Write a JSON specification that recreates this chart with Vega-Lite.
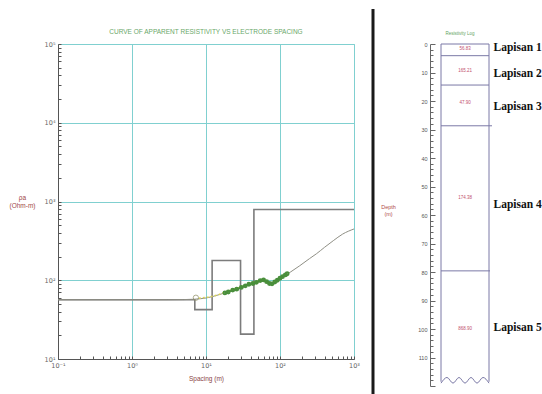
{
  "$schema": "https://vega.github.io/schema/vega-lite/v6.json",
  "padding": {"left": 8, "top": 7, "right": 0, "bottom": 0},
  "spacing": 76,
  "bounds": "flush",
  "config": {"font": "Liberation Sans", "background": "white"},
  "datasets": {
    "model": [{"x":0.1,"y":56.5},{"x":1,"y":56.5},{"x":3,"y":56.5},{"x":5,"y":56.8},{"x":7,"y":57.5},{"x":10,"y":59.5},{"x":13,"y":63},{"x":17,"y":68},{"x":22,"y":73},{"x":26,"y":77},{"x":32,"y":82},{"x":39,"y":88},{"x":48,"y":93},{"x":57,"y":97},{"x":66,"y":94},{"x":75,"y":89},{"x":85,"y":93},{"x":100,"y":103},{"x":114,"y":113},{"x":140,"y":128},{"x":185,"y":153},{"x":250,"y":188},{"x":313,"y":218},{"x":400,"y":262},{"x":525,"y":318},{"x":700,"y":385},{"x":1000,"y":448}],
    "step": [{"x":0.1,"y":56.5},{"x":7.06,"y":42.4},{"x":12.1,"y":178},{"x":29.3,"y":20.7},{"x":44.4,"y":790},{"x":1000,"y":790}],
    "obs": [
      {"s":"y","x":8,"y":59},{"s":"y","x":9,"y":60},{"s":"y","x":11,"y":61},{"s":"y","x":13,"y":63.5},{"s":"y","x":15,"y":66},{"s":"y","x":17,"y":69},{"s":"y","x":20,"y":73},{"s":"y","x":24,"y":77},{"s":"y","x":28,"y":81},{"s":"y","x":33,"y":86},{"s":"y","x":38,"y":91},{"s":"y","x":44,"y":95},{"s":"y","x":50,"y":98},{"s":"y","x":56,"y":102},{"s":"y","x":62,"y":103},
      {"s":"g","x":18,"y":69},{"s":"g","x":20,"y":71},{"s":"g","x":23,"y":75},{"s":"g","x":26,"y":77},{"s":"g","x":30,"y":81},{"s":"g","x":34,"y":85},{"s":"g","x":38,"y":89},{"s":"g","x":43,"y":91},{"s":"g","x":48,"y":94},{"s":"g","x":54,"y":99},{"s":"g","x":60,"y":101},{"s":"g","x":66,"y":96},{"s":"g","x":72,"y":91},{"s":"g","x":78,"y":90},{"s":"g","x":85,"y":95},{"s":"g","x":92,"y":100},{"s":"g","x":100,"y":106},{"s":"g","x":108,"y":111},{"s":"g","x":118,"y":117},{"s":"g","x":125,"y":121}
    ],
    "marker": [{"x":7.3,"y":60}],
    "sep": [{"x":-57,"y":-12.3,"y2":126}],
    "box": [
      {"x":11,"x2":11,"y":0,"y2":118.5},{"x":59,"x2":59,"y":0,"y2":118.5},{"x":11,"x2":59,"y":0,"y2":0},
      {"x":11,"x2":59,"y":4.1,"y2":4.1},{"x":11,"x2":59,"y":14.4,"y2":14.4},{"x":11,"x2":62,"y":28.7,"y2":28.7},{"x":11,"x2":60,"y":79.6,"y2":79.6}
    ],
    "wave": [{"x":11,"y":119},{"x":17,"y":117},{"x":23,"y":119},{"x":29,"y":117},{"x":35,"y":119},{"x":41,"y":117},{"x":47,"y":119},{"x":53,"y":117},{"x":59,"y":119}],
    "rho": [{"x":35,"y":1.8,"t":"56.83"},{"x":35,"y":9.6,"t":"165.21"},{"x":35,"y":20.7,"t":"47.90"},{"x":35,"y":54.2,"t":"174.38"},{"x":35,"y":100,"t":"868.90"}],
    "lap": [{"x":63.5,"y":1.5,"t":"Lapisan 1"},{"x":63.5,"y":10.5,"t":"Lapisan 2"},{"x":63.5,"y":22.2,"t":"Lapisan 3"},{"x":63.5,"y":56.6,"t":"Lapisan 4"},{"x":63.5,"y":99.5,"t":"Lapisan 5"}],
    "ltitle": [{"x":30,"y":-3.6,"t":"Resistivity Log"}]
  },
  "hconcat": [
    {
      "width": 296,
      "height": 315,
      "view": {"stroke": "#8fd4d4"},
      "title": {"text": "CURVE OF APPARENT RESISTIVITY VS ELECTRODE SPACING", "fontSize": 6.5, "fontWeight": "normal", "color": "#6aa86a", "offset": 6, "anchor": "middle"},
      "encoding": {
        "x": {"field": "x", "type": "quantitative",
          "scale": {"type": "log", "domain": [0.1, 1000], "nice": false},
          "axis": {
            "title": "Spacing (m)", "titleFontSize": 6.5, "titleFontWeight": "normal", "titleColor": "#8a4545", "titlePadding": 7,
            "values": [0.1,0.2,0.3,0.4,0.5,0.6,0.7,0.8,0.9,1,2,3,4,5,6,7,8,9,10,20,30,40,50,60,70,80,90,100,200,300,400,500,600,700,800,900,1000],
            "labelExpr": "abs(log(datum.value)/LN10 - round(log(datum.value)/LN10)) < 0.000001 ? '10' + ['⁻¹','⁰','¹','²','³','⁴','⁵'][round(log(datum.value)/LN10)+1] : ''",
            "labelOverlap": false, "labelFlush": false, "labelFont": "DejaVu Sans", "labelFontSize": 6.5, "labelColor": "#666", "labelPadding": 6,
            "tickSize": -3, "tickColor": "#555", "domainColor": "#555",
            "grid": true, "gridColor": "#80d0d0", "gridWidth": 1,
            "gridOpacity": {"condition": {"test": "abs(log(datum.value)/LN10 - round(log(datum.value)/LN10)) < 0.000001", "value": 1}, "value": 0}
          }
        },
        "y": {"field": "y", "type": "quantitative",
          "scale": {"type": "log", "domain": [10, 100000], "nice": false},
          "axis": {
            "title": ["ρa", "(Ohm-m)"], "titleAngle": 0, "titleAlign": "center", "titleBaseline": "top", "titleX": -36, "titleY": 150,
            "titleFontSize": 6.5, "titleFontWeight": "normal", "titleColor": "#a04848",
            "values": [10,20,30,40,50,60,70,80,90,100,200,300,400,500,600,700,800,900,1000,2000,3000,4000,5000,6000,7000,8000,9000,10000,20000,30000,40000,50000,60000,70000,80000,90000,100000],
            "labelExpr": "abs(log(datum.value)/LN10 - round(log(datum.value)/LN10)) < 0.000001 ? '10' + ['⁻¹','⁰','¹','²','³','⁴','⁵'][round(log(datum.value)/LN10)+1] : ''",
            "labelOverlap": false, "labelFlush": false, "labelFont": "DejaVu Sans", "labelFontSize": 6.5, "labelColor": "#666", "labelPadding": 6,
            "tickSize": -3, "tickColor": "#555", "domainColor": "#555",
            "grid": true, "gridColor": "#80d0d0", "gridWidth": 1,
            "gridOpacity": {"condition": {"test": "abs(log(datum.value)/LN10 - round(log(datum.value)/LN10)) < 0.000001", "value": 1}, "value": 0}
          }
        }
      },
      "layer": [
        {"data": {"name": "step"}, "mark": {"type": "line", "interpolate": "step-after", "color": "#7c7c7c", "strokeWidth": 1.6}},
        {"data": {"name": "model"}, "mark": {"type": "line", "interpolate": "monotone", "color": "#8f8f85", "strokeWidth": 1}},
        {"data": {"name": "obs"}, "transform": [{"filter": "datum.s === 'y'"}], "mark": {"type": "line", "color": "#d9d35a", "strokeWidth": 1.5, "strokeDash": [2, 2]}},
        {"data": {"name": "obs"}, "transform": [{"filter": "datum.s === 'g'"}], "mark": {"type": "line", "color": "#4a8f3c", "strokeWidth": 1.6, "point": {"filled": false, "size": 8, "color": "#4a8f3c"}}},
        {"data": {"name": "marker"}, "mark": {"type": "point", "filled": false, "size": 28, "color": "#8c8c60", "strokeWidth": 1}}
      ]
    },
    {
      "width": 112,
      "height": 342,
      "view": {"stroke": null},
      "encoding": {
        "x": {"field": "x", "type": "quantitative", "scale": {"domain": [0, 112], "nice": false, "zero": false}, "axis": null},
        "y": {"field": "y", "type": "quantitative",
          "scale": {"domain": [0, 120], "reverse": true, "nice": false, "zero": false},
          "axis": {
            "title": ["Depth", "(m)"], "titleAngle": 0, "titleAlign": "center", "titleBaseline": "top", "titleX": -42, "titleY": 160,
            "titleFontSize": 5.5, "titleFontWeight": "normal", "titleColor": "#b04a4a",
            "values": [0,2,4,6,8,10,12,14,16,18,20,22,24,26,28,30,32,34,36,38,40,42,44,46,48,50,52,54,56,58,60,62,64,66,68,70,72,74,76,78,80,82,84,86,88,90,92,94,96,98,100,102,104,106,108,110,112,114,116,118,120],
            "labelExpr": "datum.value % 10 === 0 && datum.value < 120 ? datum.value + '' : ''",
            "labelOverlap": false, "labelFlush": false, "labelFontSize": 5.5, "labelColor": "#555", "labelPadding": 8,
            "tickSize": {"condition": {"test": "datum.value % 10 === 0", "value": -5}, "value": -3},
            "tickColor": "#666", "domainColor": "#666", "grid": false
          }
        }
      },
      "layer": [
        {"data": {"name": "sep"}, "mark": {"type": "rule", "color": "#1a1a1a", "strokeWidth": 3}, "encoding": {"y2": {"field": "y2"}}},
        {"data": {"name": "box"}, "mark": {"type": "rule", "color": "#7b79a6", "strokeWidth": 1}, "encoding": {"x2": {"field": "x2"}, "y2": {"field": "y2"}}},
        {"data": {"name": "wave"}, "mark": {"type": "line", "interpolate": "monotone", "color": "#7b79a6", "strokeWidth": 1}},
        {"data": {"name": "rho"}, "mark": {"type": "text", "fontSize": 4.5, "color": "#c2506e", "baseline": "middle", "align": "center"}, "encoding": {"text": {"field": "t"}}},
        {"data": {"name": "lap"}, "mark": {"type": "text", "font": "Liberation Serif", "fontWeight": "bold", "fontSize": 11.5, "color": "#111", "baseline": "middle", "align": "left"}, "encoding": {"text": {"field": "t"}}},
        {"data": {"name": "ltitle"}, "mark": {"type": "text", "fontSize": 4.5, "color": "#5fa35f", "baseline": "middle", "align": "center"}, "encoding": {"text": {"field": "t"}}}
      ]
    }
  ]
}
